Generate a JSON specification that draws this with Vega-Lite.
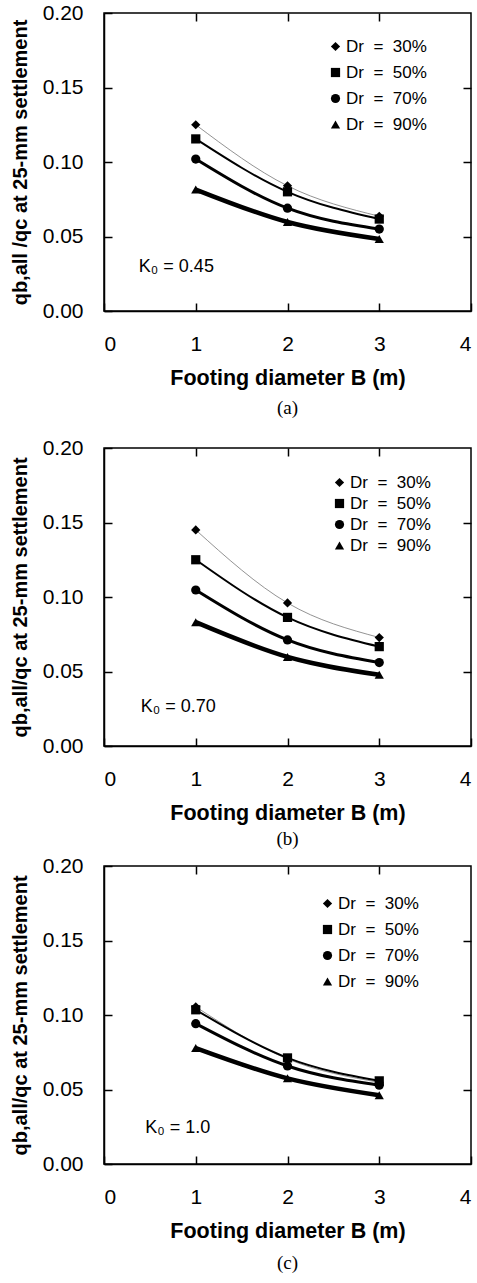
{
  "$schema": "https://vega.github.io/schema/vega-lite/v6.json",
  "padding": {"left": 9, "top": 1, "right": 0, "bottom": 0},
  "background": "white",
  "datasets": {
    "curves": [
      {"panel": "a", "Dr": "30%", "B": 1, "q": 0.125},
      {"panel": "a", "Dr": "30%", "B": 2, "q": 0.084},
      {"panel": "a", "Dr": "30%", "B": 3, "q": 0.0636},
      {"panel": "a", "Dr": "50%", "B": 1, "q": 0.1155},
      {"panel": "a", "Dr": "50%", "B": 2, "q": 0.080},
      {"panel": "a", "Dr": "50%", "B": 3, "q": 0.0617},
      {"panel": "a", "Dr": "70%", "B": 1, "q": 0.102},
      {"panel": "a", "Dr": "70%", "B": 2, "q": 0.069},
      {"panel": "a", "Dr": "70%", "B": 3, "q": 0.055},
      {"panel": "a", "Dr": "90%", "B": 1, "q": 0.0815},
      {"panel": "a", "Dr": "90%", "B": 2, "q": 0.0597},
      {"panel": "a", "Dr": "90%", "B": 3, "q": 0.0483},
      {"panel": "b", "Dr": "30%", "B": 1, "q": 0.145},
      {"panel": "b", "Dr": "30%", "B": 2, "q": 0.096},
      {"panel": "b", "Dr": "30%", "B": 3, "q": 0.0728},
      {"panel": "b", "Dr": "50%", "B": 1, "q": 0.125},
      {"panel": "b", "Dr": "50%", "B": 2, "q": 0.0863},
      {"panel": "b", "Dr": "50%", "B": 3, "q": 0.0667},
      {"panel": "b", "Dr": "70%", "B": 1, "q": 0.1047},
      {"panel": "b", "Dr": "70%", "B": 2, "q": 0.0712},
      {"panel": "b", "Dr": "70%", "B": 3, "q": 0.056},
      {"panel": "b", "Dr": "90%", "B": 1, "q": 0.0831},
      {"panel": "b", "Dr": "90%", "B": 2, "q": 0.0598},
      {"panel": "b", "Dr": "90%", "B": 3, "q": 0.0478},
      {"panel": "c", "Dr": "30%", "B": 1, "q": 0.1055},
      {"panel": "c", "Dr": "30%", "B": 2, "q": 0.0705},
      {"panel": "c", "Dr": "30%", "B": 3, "q": 0.0548},
      {"panel": "c", "Dr": "50%", "B": 1, "q": 0.1035},
      {"panel": "c", "Dr": "50%", "B": 2, "q": 0.0712},
      {"panel": "c", "Dr": "50%", "B": 3, "q": 0.0558},
      {"panel": "c", "Dr": "70%", "B": 1, "q": 0.0942},
      {"panel": "c", "Dr": "70%", "B": 2, "q": 0.0658},
      {"panel": "c", "Dr": "70%", "B": 3, "q": 0.0529},
      {"panel": "c", "Dr": "90%", "B": 1, "q": 0.0778},
      {"panel": "c", "Dr": "90%", "B": 2, "q": 0.0575},
      {"panel": "c", "Dr": "90%", "B": 3, "q": 0.0462}
    ],
    "notes": [
      {"panel": "a", "B": 0.38, "q": 0.0295, "label": "K₀ = 0.45"},
      {"panel": "b", "B": 0.4, "q": 0.0265, "label": "K₀ = 0.70"},
      {"panel": "c", "B": 0.45, "q": 0.024, "label": "K₀ = 1.0"}
    ]
  },
  "vconcat": [
    {
      "title": {"text": "(a)", "subtitle": " ", "subtitleFontSize": 13, "subtitlePadding": 0, "orient": "bottom", "frame": "group", "font": "Liberation Serif", "fontSize": 19, "fontWeight": "normal", "color": "black", "offset": 10},
      "layer": [
        {
          "data": {"name": "curves"},
          "transform": [{"filter": "datum.panel == 'a'"}],
          "mark": {"type": "line", "interpolate": "monotone"},
          "encoding": {
            "x": {"field": "B", "type": "quantitative", "scale": {"domain": [0, 4], "nice": false}, "axis": {"values": [0, 1, 2, 3, 4], "format": "d", "title": "Footing diameter B (m)"}},
            "y": {"field": "q", "type": "quantitative", "scale": {"domain": [0, 0.2], "nice": false}, "axis": {"values": [0, 0.05, 0.1, 0.15, 0.2], "format": ".2f", "title": "qb,all /qc at 25-mm settlement"}},
            "strokeWidth": {"field": "Dr", "type": "ordinal", "scale": {"type": "ordinal", "range": [0.8, 2, 3, 4.5]}, "legend": null},
            "color": {"field": "Dr", "type": "nominal", "scale": {"range": ["#777777", "#000000", "#000000", "#000000"]}, "legend": null}
          }
        },
        {
          "data": {"name": "curves"},
          "transform": [{"filter": "datum.panel == 'a'"}],
          "mark": {"type": "point", "filled": true, "color": "black", "size": 85, "opacity": 1},
          "encoding": {
            "x": {"field": "B", "type": "quantitative", "scale": {"domain": [0, 4], "nice": false}, "axis": null},
            "y": {"field": "q", "type": "quantitative", "scale": {"domain": [0, 0.2], "nice": false}, "axis": null},
            "shape": {"field": "Dr", "type": "nominal", "scale": {"domain": ["30%", "50%", "70%", "90%"], "range": ["diamond", "square", "circle", "triangle-up"]},
              "legend": {"title": null, "orient": "none", "legendX": 223, "legendY": 25, "labelExpr": "'Dr\u00a0\u00a0=\u00a0\u00a0' + datum.label", "labelFont": "Liberation Sans", "labelFontSize": 17, "labelColor": "black", "symbolFillColor": "black", "symbolStrokeColor": "black", "symbolSize": 85, "rowPadding": 8, "labelOffset": 2}}
          }
        },
        {
          "data": {"name": "notes"},
          "transform": [{"filter": "datum.panel == 'a'"}],
          "mark": {"type": "text", "align": "left", "baseline": "middle", "font": "Liberation Sans", "fontSize": 18, "color": "black"},
          "encoding": {
            "x": {"field": "B", "type": "quantitative", "scale": {"domain": [0, 4], "nice": false}, "axis": null},
            "y": {"field": "q", "type": "quantitative", "scale": {"domain": [0, 0.2], "nice": false}, "axis": null},
            "text": {"field": "label"}
          }
        },
        {
          "data": {"name": "curves"},
          "transform": [{"filter": "datum.panel == 'a'"}],
          "mark": {"type": "point", "opacity": 0},
          "encoding": {
            "x": {"field": "B", "type": "quantitative", "scale": {"domain": [0, 4], "nice": false}, "axis": {"orient": "top", "values": [1, 2, 3], "labels": false, "title": null, "domain": false}},
            "y": {"field": "q", "type": "quantitative", "scale": {"domain": [0, 0.2], "nice": false}, "axis": {"orient": "right", "values": [0.05, 0.1, 0.15], "labels": false, "title": null, "domain": false}}
          }
        }
      ],
      "resolve": {"scale": {"x": "independent", "y": "independent"}}
    },
    {
      "title": {"text": "(b)", "orient": "bottom", "frame": "group", "font": "Liberation Serif", "fontSize": 19, "fontWeight": "normal", "color": "black", "offset": 6},
      "layer": [
        {
          "data": {"name": "curves"},
          "transform": [{"filter": "datum.panel == 'b'"}],
          "mark": {"type": "line", "interpolate": "monotone"},
          "encoding": {
            "x": {"field": "B", "type": "quantitative", "scale": {"domain": [0, 4], "nice": false}, "axis": {"values": [0, 1, 2, 3, 4], "format": "d", "title": "Footing diameter B (m)"}},
            "y": {"field": "q", "type": "quantitative", "scale": {"domain": [0, 0.2], "nice": false}, "axis": {"values": [0, 0.05, 0.1, 0.15, 0.2], "format": ".2f", "title": "qb,all/qc at 25-mm settlement"}},
            "strokeWidth": {"field": "Dr", "type": "ordinal", "scale": {"type": "ordinal", "range": [0.8, 2, 3, 4.5]}, "legend": null},
            "color": {"field": "Dr", "type": "nominal", "scale": {"range": ["#777777", "#000000", "#000000", "#000000"]}, "legend": null}
          }
        },
        {
          "data": {"name": "curves"},
          "transform": [{"filter": "datum.panel == 'b'"}],
          "mark": {"type": "point", "filled": true, "color": "black", "size": 85, "opacity": 1},
          "encoding": {
            "x": {"field": "B", "type": "quantitative", "scale": {"domain": [0, 4], "nice": false}, "axis": null},
            "y": {"field": "q", "type": "quantitative", "scale": {"domain": [0, 0.2], "nice": false}, "axis": null},
            "shape": {"field": "Dr", "type": "nominal", "scale": {"domain": ["30%", "50%", "70%", "90%"], "range": ["diamond", "square", "circle", "triangle-up"]},
              "legend": {"title": null, "orient": "none", "legendX": 227, "legendY": 26, "labelExpr": "'Dr\u00a0\u00a0=\u00a0\u00a0' + datum.label", "labelFont": "Liberation Sans", "labelFontSize": 17, "labelColor": "black", "symbolFillColor": "black", "symbolStrokeColor": "black", "symbolSize": 85, "rowPadding": 3, "labelOffset": 2}}
          }
        },
        {
          "data": {"name": "notes"},
          "transform": [{"filter": "datum.panel == 'b'"}],
          "mark": {"type": "text", "align": "left", "baseline": "middle", "font": "Liberation Sans", "fontSize": 18, "color": "black"},
          "encoding": {
            "x": {"field": "B", "type": "quantitative", "scale": {"domain": [0, 4], "nice": false}, "axis": null},
            "y": {"field": "q", "type": "quantitative", "scale": {"domain": [0, 0.2], "nice": false}, "axis": null},
            "text": {"field": "label"}
          }
        },
        {
          "data": {"name": "curves"},
          "transform": [{"filter": "datum.panel == 'b'"}],
          "mark": {"type": "point", "opacity": 0},
          "encoding": {
            "x": {"field": "B", "type": "quantitative", "scale": {"domain": [0, 4], "nice": false}, "axis": {"orient": "top", "values": [1, 2, 3], "labels": false, "title": null, "domain": false}},
            "y": {"field": "q", "type": "quantitative", "scale": {"domain": [0, 0.2], "nice": false}, "axis": {"orient": "right", "values": [0.05, 0.1, 0.15], "labels": false, "title": null, "domain": false}}
          }
        }
      ],
      "resolve": {"scale": {"x": "independent", "y": "independent"}}
    },
    {
      "title": {"text": "(c)", "orient": "bottom", "frame": "group", "font": "Liberation Serif", "fontSize": 19, "fontWeight": "normal", "color": "black", "offset": 12},
      "layer": [
        {
          "data": {"name": "curves"},
          "transform": [{"filter": "datum.panel == 'c'"}],
          "mark": {"type": "line", "interpolate": "monotone"},
          "encoding": {
            "x": {"field": "B", "type": "quantitative", "scale": {"domain": [0, 4], "nice": false}, "axis": {"values": [0, 1, 2, 3, 4], "format": "d", "title": "Footing diameter B (m)"}},
            "y": {"field": "q", "type": "quantitative", "scale": {"domain": [0, 0.2], "nice": false}, "axis": {"values": [0, 0.05, 0.1, 0.15, 0.2], "format": ".2f", "title": "qb,all/qc at 25-mm settlement"}},
            "strokeWidth": {"field": "Dr", "type": "ordinal", "scale": {"type": "ordinal", "range": [0.8, 2, 3, 4.5]}, "legend": null},
            "color": {"field": "Dr", "type": "nominal", "scale": {"range": ["#777777", "#000000", "#000000", "#000000"]}, "legend": null}
          }
        },
        {
          "data": {"name": "curves"},
          "transform": [{"filter": "datum.panel == 'c'"}],
          "mark": {"type": "point", "filled": true, "color": "black", "size": 85, "opacity": 1},
          "encoding": {
            "x": {"field": "B", "type": "quantitative", "scale": {"domain": [0, 4], "nice": false}, "axis": null},
            "y": {"field": "q", "type": "quantitative", "scale": {"domain": [0, 0.2], "nice": false}, "axis": null},
            "shape": {"field": "Dr", "type": "nominal", "scale": {"domain": ["30%", "50%", "70%", "90%"], "range": ["diamond", "square", "circle", "triangle-up"]},
              "legend": {"title": null, "orient": "none", "legendX": 215, "legendY": 29, "labelExpr": "'Dr\u00a0\u00a0=\u00a0\u00a0' + datum.label", "labelFont": "Liberation Sans", "labelFontSize": 17, "labelColor": "black", "symbolFillColor": "black", "symbolStrokeColor": "black", "symbolSize": 85, "rowPadding": 8, "labelOffset": 2}}
          }
        },
        {
          "data": {"name": "notes"},
          "transform": [{"filter": "datum.panel == 'c'"}],
          "mark": {"type": "text", "align": "left", "baseline": "middle", "font": "Liberation Sans", "fontSize": 18, "color": "black"},
          "encoding": {
            "x": {"field": "B", "type": "quantitative", "scale": {"domain": [0, 4], "nice": false}, "axis": null},
            "y": {"field": "q", "type": "quantitative", "scale": {"domain": [0, 0.2], "nice": false}, "axis": null},
            "text": {"field": "label"}
          }
        },
        {
          "data": {"name": "curves"},
          "transform": [{"filter": "datum.panel == 'c'"}],
          "mark": {"type": "point", "opacity": 0},
          "encoding": {
            "x": {"field": "B", "type": "quantitative", "scale": {"domain": [0, 4], "nice": false}, "axis": {"orient": "top", "values": [1, 2, 3], "labels": false, "title": null, "domain": false}},
            "y": {"field": "q", "type": "quantitative", "scale": {"domain": [0, 0.2], "nice": false}, "axis": {"orient": "right", "values": [0.05, 0.1, 0.15], "labels": false, "title": null, "domain": false}}
          }
        }
      ],
      "resolve": {"scale": {"x": "independent", "y": "independent"}}
    }
  ],
  "spacing": 4,
  "resolve": {"scale": {"shape": "independent", "strokeWidth": "independent", "color": "independent"}, "legend": {"shape": "independent"}},
  "config": {
    "view": {"stroke": "black", "strokeWidth": 1.5, "continuousWidth": 367, "continuousHeight": 298},
    "font": "Liberation Sans",
    "axis": {
      "grid": false,
      "domainColor": "black",
      "domainWidth": 1.5,
      "tickColor": "black",
      "tickWidth": 1.5,
      "tickSize": -8,
      "labelFont": "Liberation Sans",
      "labelFontSize": 21,
      "labelColor": "black",
      "titleFont": "Liberation Sans",
      "titleFontWeight": "bold",
      "titleColor": "black"
    },
    "axisX": {"titleFontSize": 21.5, "titlePadding": 13, "labelPadding": 30},
    "axisY": {"titleFontSize": 20, "titlePadding": 12, "labelPadding": 29}
  }
}
